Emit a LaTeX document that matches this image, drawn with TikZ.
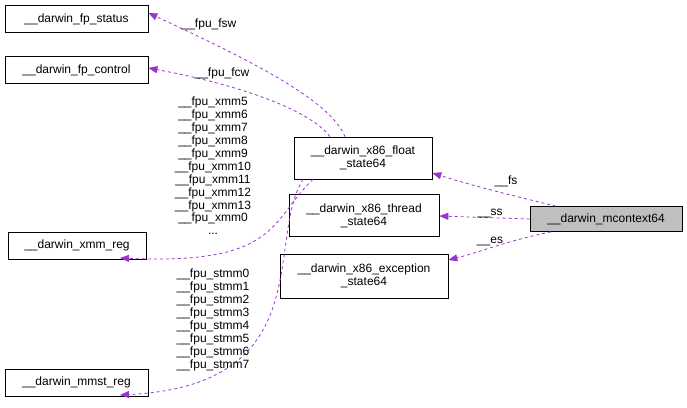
\documentclass[tikz,border=0pt]{standalone}
\usepackage{fontspec}
\setmainfont{Liberation Sans}
\usetikzlibrary{arrows.meta}
\begin{document}
\begin{tikzpicture}[x=1pt,y=-1pt,
  box/.style={draw=black,line width=0.7pt,fill=white,inner sep=0pt,align=center,font=\fontsize{12}{13}\selectfont},
  edge/.style={draw={rgb,255:red,154;green,50;blue,205},dashed,line width=0.8pt,-{Triangle[length=9pt,width=7pt]}},
  lbl/.style={font=\fontsize{12}{12.9}\selectfont,align=center,inner sep=0pt}]
\useasboundingbox (0,0) rectangle (687,407);
\node[box,minimum width=143,minimum height=27] (fps) at (76.5,19) {\_\_darwin\_fp\_status};
\node[box,minimum width=143,minimum height=27] (fpc) at (76.5,70) {\_\_darwin\_fp\_control};
\node[box,minimum width=138,minimum height=27] (xmm) at (77,245.5) {\_\_darwin\_xmm\_reg};
\node[box,minimum width=143,minimum height=27] (mmst) at (76.5,382.5) {\_\_darwin\_mmst\_reg};
\node[box,minimum width=138,minimum height=42] (fl) at (363,158) {\_\_darwin\_x86\_float\\\_state64};
\node[box,minimum width=150,minimum height=42] (th) at (364,215.5) {\_\_darwin\_x86\_thread\\\_state64};
\node[box,minimum width=168,minimum height=44] (ex) at (364,276) {\_\_darwin\_x86\_exception\\\_state64};
\node[box,fill={rgb,255:red,191;green,191;blue,191},minimum width=152,minimum height=25] (mc) at (606,219) {\_\_darwin\_mcontext64};

\draw[edge] ([xshift=-50]mc.north) .. controls (510,195) and (470,185) .. (fl.south east |- 0,173) coordinate (a1);
\draw[edge] (mc.west) -- (th.east |- 0,216);
\draw[edge] ([xshift=-55]mc.south) .. controls (510,240) and (480,252) .. (ex.east |- 0,260);
\draw[edge] ([xshift=-18]fl.north) .. controls (330,100) and (250,60) .. ([yshift=6]fps.east);
\draw[edge] ([xshift=-33]fl.north) .. controls (310,110) and (240,85) .. ([yshift=2]fpc.east);
\draw[edge] ([xshift=-50]fl.south) .. controls (270,220) and (280,265) .. (120,258);
\draw[edge] ([xshift=-60]fl.south) .. controls (265,240) and (320,385) .. (120,395);

\node[lbl] (l1) at (506,181) {\_\_fs};
\node[lbl] (l2) at (490,213) {\_\_ss};
\node[lbl] (l3) at (490,241) {\_\_es};
\node[lbl] (l4) at (209,24) {\_\_fpu\_fsw};
\node[lbl] (l5) at (222,73) {\_\_fpu\_fcw};
\node[lbl,anchor=north] (l6) at (213,97) {\_\_fpu\_xmm5\\\_\_fpu\_xmm6\\\_\_fpu\_xmm7\\\_\_fpu\_xmm8\\\_\_fpu\_xmm9\\\_\_fpu\_xmm10\\\_\_fpu\_xmm11\\\_\_fpu\_xmm12\\\_\_fpu\_xmm13\\\_\_fpu\_xmm0\\...};
\node[lbl,anchor=north] (l7) at (213,269) {\_\_fpu\_stmm0\\\_\_fpu\_stmm1\\\_\_fpu\_stmm2\\\_\_fpu\_stmm3\\\_\_fpu\_stmm4\\\_\_fpu\_stmm5\\\_\_fpu\_stmm6\\\_\_fpu\_stmm7};
\end{tikzpicture}
\end{document}
